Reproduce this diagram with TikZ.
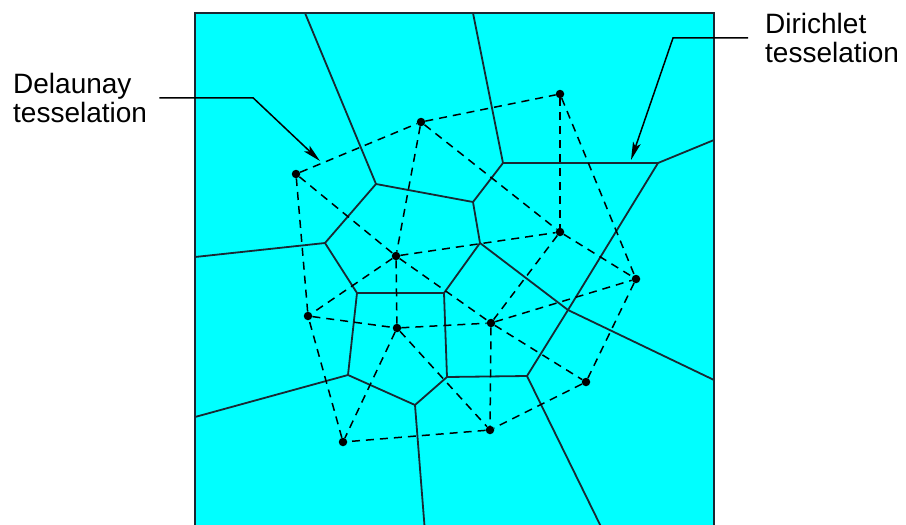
\documentclass[tikz,border=0pt]{standalone}
\usepackage{fontspec}
\setmainfont{Liberation Sans}
\usetikzlibrary{arrows.meta}
\definecolor{tile}{RGB}{0,255,255}
\definecolor{ink}{RGB}{25,40,50}

\begin{document}
\begin{tikzpicture}[
  x=1pt, y=-1pt,
  site/.style={circle, fill=black, inner sep=0pt, minimum size=8.5pt},
  vor/.style={ink, line width=1.8pt},
  del/.style={black, line width=1.5pt, dash pattern=on 8pt off 6pt},
  lead/.style={black, line width=1.5pt, -{Stealth[length=18pt, width=8pt, inset=4pt]}},
  lab/.style={font=\fontsize{28}{29}\selectfont, align=left, inner sep=0pt, anchor=north west}
]
\useasboundingbox (0,0) rectangle (906,525);
\draw[ink, line width=2pt, fill=tile] (195,13) rectangle (714,545);

% Dirichlet vertices and border ends
\coordinate (v1) at (376,184);
\coordinate (v2) at (473,202);
\coordinate (v3) at (503,163);
\coordinate (v4) at (658,163);
\coordinate (v5) at (325,243);
\coordinate (v6) at (357,293);
\coordinate (v7) at (444,293);
\coordinate (v8) at (348,375);
\coordinate (v9) at (415,405);
\coordinate (v10) at (447,377);
\coordinate (v11) at (527,376);
\coordinate (v12) at (568,310);
\coordinate (v13) at (480,243);
\coordinate (b1) at (305,13);
\coordinate (b2) at (473,13);
\coordinate (b3) at (714,140);
\coordinate (b4) at (714,380);
\coordinate (b5) at (195,257);
\coordinate (b6) at (195,417);
\coordinate (b7) at (426,545);
\coordinate (b8) at (610,545);

\draw[vor] (b1) -- (v1) -- (v5) -- (b5);
\draw[vor] (v1) -- (v2) -- (v3) -- (b2);
\draw[vor] (v3) -- (v4) -- (b3);
\draw[vor] (v4) -- (v12) -- (v11) -- (b8);
\draw[vor] (v2) -- (v13) -- (v12) -- (b4);
\draw[vor] (v13) -- (v7) -- (v6) -- (v5);
\draw[vor] (v6) -- (v8) -- (b6);
\draw[vor] (v8) -- (v9) -- (b7);
\draw[vor] (v9) -- (v10) -- (v11);
\draw[vor] (v10) -- (v7);

% sites
\node[site] (p1) at (296,174) {};
\node[site] (p2) at (421,122) {};
\node[site] (p3) at (560,94) {};
\node[site] (p4) at (560,232) {};
\node[site] (p5) at (396,256) {};
\node[site] (p6) at (636,279) {};
\node[site] (p7) at (308,316) {};
\node[site] (p8) at (397,328) {};
\node[site] (p9) at (491,323) {};
\node[site] (p10) at (586,382) {};
\node[site] (p11) at (343,442) {};
\node[site] (p12) at (490,430) {};

% Delaunay edges
\draw[del] (p1) -- (p2) -- (p3) -- (p6) -- (p10) -- (p12) -- (p11) -- (p7) -- (p1);
\foreach \a/\b in {1/5, 2/5, 2/4, 3/4, 5/4, 4/6, 4/9, 5/9, 5/8, 5/7,
                   7/8, 8/9, 8/11, 8/12, 9/12, 9/10, 9/6}
  \draw[del] (p\a) -- (p\b);

% labels
\node[lab] (dlab) at (13,73) {Delaunay\\tesselation};
\node[lab] (rlab) at (765,13) {Dirichlet\\tesselation};
\coordinate (dtip) at (320,161);
\coordinate (rtip) at (631,160);
\draw[lead] ([xshift=12pt]dlab.east) -- ++(94,0) -- (dtip);
\draw[lead] ([xshift=-17pt]rlab.west) -- ++(-75,0) -- (rtip);
\end{tikzpicture}
\end{document}
